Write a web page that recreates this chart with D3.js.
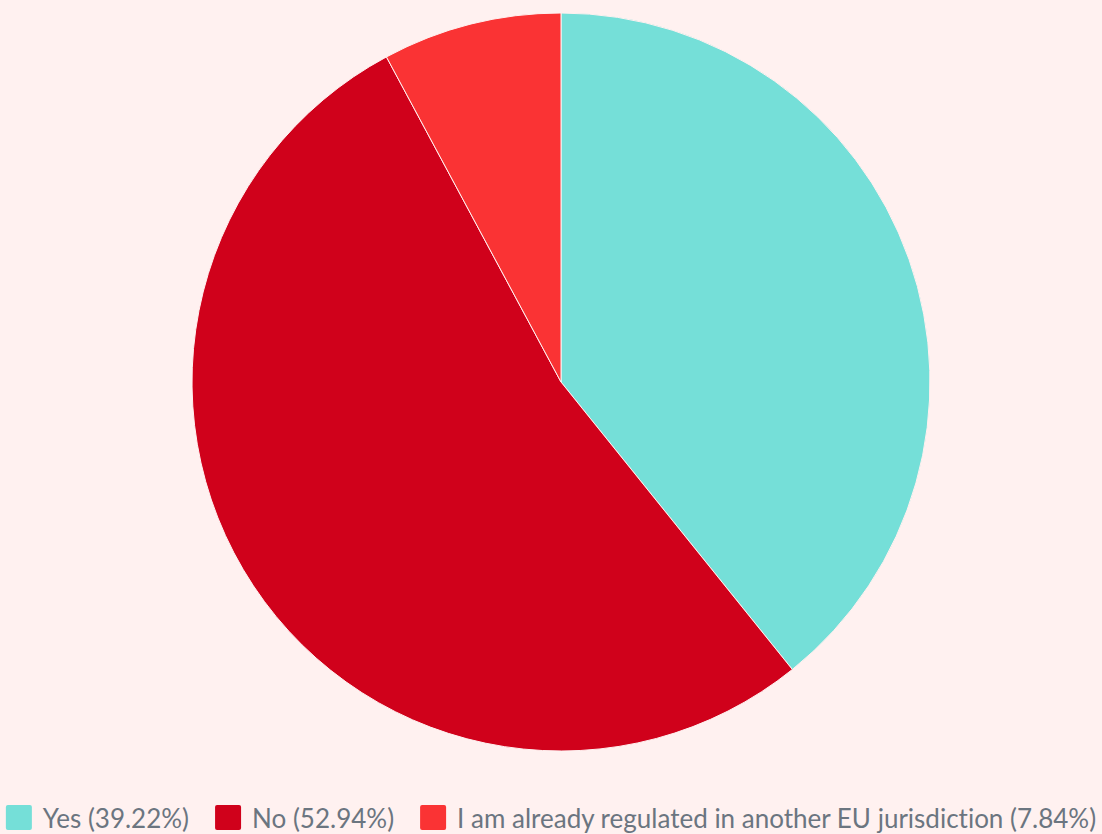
<!DOCTYPE html>
<meta charset="utf-8">
<head>
<script src="https://d3js.org/d3.v7.min.js"></script>
<style>
  body { margin: 0; background: #fff1f0; }
  svg { display: block; }
  .legend text { font-variant-ligatures: none; }
</style>
</head>
<body>
<script>
  var width = 1102, height = 834;

  var labels = ["Yes", "No", "I am already regulated in another EU jurisdiction"];
  var counts = [20, 27, 4];
  var colors = ["#75dfd8", "#d0011b", "#fa3334"];

  var total = d3.sum(counts);

  var svg = d3.select("body").append("svg")
    .attr("width", width)
    .attr("height", height);

  var pie = d3.pie().sort(null).value(function(d) { return d; });
  var arc = d3.arc().innerRadius(0).outerRadius(369);

  svg.append("g")
    .attr("transform", "translate(561,382)")
    .selectAll("path")
    .data(pie(counts))
    .enter().append("path")
    .attr("d", arc)
    .attr("fill", function(d, i) { return colors[i]; })
    .attr("stroke", "#fff1f0")
    .attr("stroke-width", 1);

  // legend
  var legend = svg.append("g").attr("class", "legend");
  var items = legend.selectAll("g")
    .data(labels)
    .enter().append("g");

  items.append("rect")
    .attr("width", 26)
    .attr("height", 25)
    .attr("rx", 2)
    .attr("y", 805)
    .attr("fill", function(d, i) { return colors[i]; });

  items.append("text")
    .attr("x", 37)
    .attr("y", 828)
    .attr("font-family", "Lato")
    .attr("font-size", 26)
    .attr("fill", "#6b7580")
    .text(function(d, i) { return d + " (" + (counts[i] / total * 100).toFixed(2) + "%)"; });

  var x = 0, gap = 26, offsets = [];
  items.each(function() {
    offsets.push(x);
    x += 37 + this.querySelector("text").getComputedTextLength() + gap;
  });
  var start = (width - (x - gap)) / 2;
  items.attr("transform", function(d, i) { return "translate(" + (start + offsets[i]) + ",0)"; });
</script>
</body>
